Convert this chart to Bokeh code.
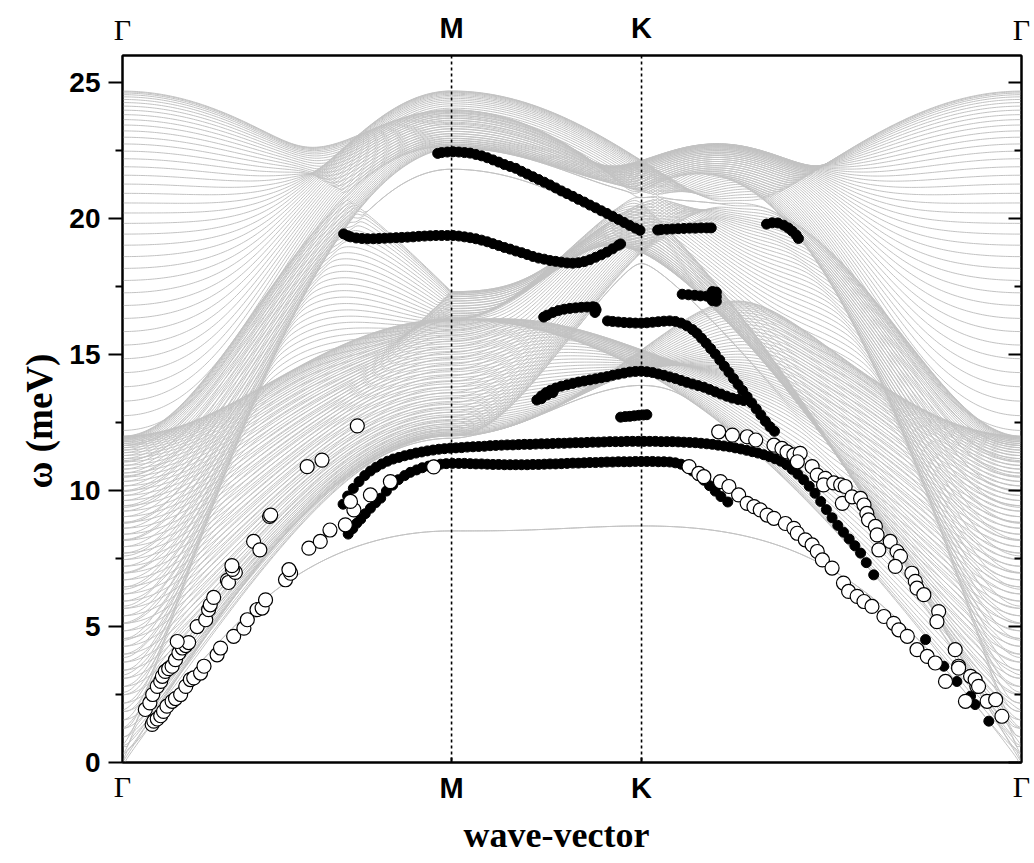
import numpy as np
from bokeh.plotting import figure
from bokeh.models import LinearAxis, FixedTicker, Range1d, Span, Title
from bokeh.embed import file_html
from bokeh.resources import INLINE

# ---------------- path (units of 2*pi/d along the surface Brillouin zone) -------------
S_M = 1.0 / np.sqrt(3.0)
S_K = S_M + 1.0 / 3.0
S_G2 = S_K + 2.0 / 3.0

# ---------------- slab model parameters ----------------
E_TOP = 24.7          # meV, top of the bands at Gamma
N_LAYERS = 60         # number of (111) layers in the slab
BETA = -0.0375        # tangential / radial nearest-neighbour ratio
K2 = 0.075            # second-neighbour / first-neighbour ratio
F_SURF = 0.72         # softening of the surface-subsurface bonds

# ---------------- measured points (wave-vector, energy meV) ----------------
black_1 = [(0.553,22.40),(0.56,22.43),(0.57,22.45),(0.58,22.46),(0.59,22.45),(0.60,22.43),(0.61,22.41),
           (0.62,22.36),(0.63,22.31),(0.64,22.24),(0.65,22.16),(0.66,22.08),(0.67,21.99),(0.68,21.92),
           (0.69,21.85),(0.70,21.74),(0.71,21.64),(0.72,21.54),(0.73,21.44),(0.74,21.34),(0.75,21.24),
           (0.76,21.13),(0.77,21.02),(0.78,20.92),(0.79,20.82),(0.80,20.71),(0.81,20.61),(0.82,20.50),
           (0.83,20.40),(0.84,20.29),(0.85,20.19),(0.86,20.08),(0.87,19.97),(0.88,19.86),(0.89,19.75),
           (0.90,19.65),(0.908,19.57)]
black_2 = [(0.388,19.44),(0.395,19.37),(0.40,19.33),(0.41,19.29),(0.42,19.27),(0.43,19.26),(0.44,19.26),
           (0.45,19.27),(0.46,19.28),(0.47,19.29),(0.48,19.30),(0.49,19.31),(0.50,19.32),(0.51,19.33),
           (0.52,19.35),(0.53,19.36),(0.54,19.37),(0.55,19.38),(0.56,19.38),(0.57,19.38),(0.58,19.38),
           (0.59,19.36),(0.60,19.33),(0.61,19.30),(0.62,19.26),(0.63,19.21),(0.64,19.15),(0.65,19.08),
           (0.66,19.01),(0.67,18.94),(0.68,18.88),(0.69,18.81),(0.70,18.75),(0.71,18.68),(0.72,18.61),
           (0.73,18.55),(0.74,18.51),(0.75,18.46),(0.76,18.43),(0.77,18.40),(0.78,18.37),(0.79,18.36),
           (0.80,18.38),(0.81,18.42),(0.82,18.49),(0.83,18.58),(0.84,18.67),(0.85,18.77),(0.86,18.89),
           (0.87,19.02),(0.874,19.07)]
black_3 = [(0.939,19.58),(0.945,19.60),(0.955,19.61),(0.965,19.62),(0.975,19.63),(0.985,19.64),
           (0.995,19.65),(1.005,19.65),(1.015,19.66),(1.025,19.66),(1.033,19.66)]
black_4 = [(1.130,19.80),(1.140,19.85),(1.150,19.84),(1.160,19.76),(1.168,19.66),(1.175,19.54),
           (1.182,19.40),(1.186,19.27)]
black_5 = [(0.739,16.38),(0.745,16.45),(0.755,16.55),(0.765,16.62),(0.775,16.67),(0.785,16.70),
           (0.795,16.72),(0.805,16.74),(0.815,16.75),(0.825,16.76),(0.829,16.74),(0.829,16.55),(0.831,16.65)]
black_6 = [(0.851,16.24),(0.86,16.22),(0.87,16.20),(0.88,16.18),(0.89,16.17),(0.90,16.16),(0.91,16.16),
           (0.92,16.17),(0.93,16.19),(0.94,16.21),(0.95,16.23),(0.96,16.24),(0.97,16.22),(0.98,16.16),
           (0.99,16.06),(1.0,15.92),(1.008,15.78),(1.016,15.60),(1.024,15.42),(1.032,15.22),(1.04,15.02),
           (1.048,14.80),(1.056,14.57),(1.064,14.35),(1.072,14.12),(1.08,13.90),(1.088,13.68),(1.096,13.45),
           (1.104,13.22),(1.112,13.00),(1.12,12.78),(1.128,12.55),(1.136,12.35),(1.144,12.18)]
black_7 = [(0.982,17.22),(0.993,17.20),(1.004,17.18),(1.014,17.16),(1.025,17.15),(1.033,17.14),
           (1.042,17.13),(1.035,16.98),(1.042,16.96),(1.042,17.30),(1.035,17.32)]
black_8 = [(0.727,13.33),(0.735,13.48),(0.743,13.60),(0.751,13.69),(0.76,13.77),(0.77,13.84),(0.78,13.89),
           (0.79,13.94),(0.80,13.99),(0.81,14.03),(0.82,14.07),(0.83,14.11),(0.84,14.15),(0.85,14.19),
           (0.86,14.24),(0.87,14.28),(0.88,14.32),(0.89,14.36),(0.90,14.38),(0.91,14.39),(0.92,14.37),
           (0.93,14.34),(0.94,14.29),(0.95,14.24),(0.96,14.18),(0.97,14.12),(0.98,14.05),(0.99,13.98),
           (1.00,13.92),(1.01,13.86),(1.02,13.80),(1.03,13.72),(1.04,13.63),(1.05,13.55),(1.06,13.47),
           (1.07,13.40),(1.08,13.35),(1.09,13.31),(0.735,13.38),(0.745,13.52),(0.755,13.60)]
black_9 = [(0.874,12.70),(0.882,12.72),(0.89,12.73),(0.898,12.75),(0.906,12.77),(0.914,12.78),(0.92,12.79)]
black_10 = [(0.387,9.50),(0.395,9.80),(0.405,10.08),(0.415,10.33),(0.425,10.55),(0.435,10.72),(0.445,10.86),
            (0.455,10.98),(0.465,11.08),(0.475,11.16),(0.485,11.22),(0.495,11.28),(0.505,11.33),(0.515,11.38),
            (0.525,11.42),(0.535,11.46),(0.545,11.49),(0.555,11.52),(0.565,11.54),(0.575,11.56),(0.585,11.57),
            (0.595,11.58),(0.605,11.60),(0.615,11.61),(0.625,11.62),(0.635,11.63),(0.645,11.65),(0.655,11.66),
            (0.665,11.67),(0.675,11.68),(0.685,11.68),(0.695,11.69),(0.705,11.70),(0.715,11.70),(0.725,11.71),
            (0.735,11.72),(0.745,11.72),(0.755,11.73),(0.765,11.74),(0.775,11.74),(0.785,11.75),(0.795,11.76),
            (0.805,11.76),(0.815,11.77),(0.825,11.78),(0.835,11.78),(0.845,11.79),(0.855,11.80),(0.865,11.80),
            (0.875,11.80),(0.885,11.81),(0.895,11.81),(0.905,11.81),(0.915,11.81),(0.925,11.81),(0.935,11.81),
            (0.945,11.80),(0.955,11.80),(0.965,11.80),(0.975,11.79),(0.985,11.78),(0.995,11.77),(1.005,11.76),
            (1.015,11.74),(1.025,11.72),(1.035,11.70),(1.045,11.67),(1.055,11.64),(1.065,11.61),(1.075,11.57),
            (1.085,11.53),(1.095,11.48),(1.105,11.43),(1.115,11.38),(1.125,11.32),(1.135,11.25),(1.145,11.17),
            (1.155,11.08),(1.165,10.95),(1.175,10.78),(1.185,10.60),(1.195,10.40),(1.205,10.16),(1.215,9.90),
            (1.225,9.60),(1.235,9.30),(1.245,9.00),(1.255,8.72),(1.265,8.47),(1.275,8.22),(1.285,7.97),
            (1.295,7.70),(1.305,7.35),(1.318,6.90)]
black_11 = [(0.396,8.40),(0.404,8.60),(0.411,8.80),(0.418,8.95),(0.426,9.15),(0.435,9.35),(0.444,9.55),
            (0.453,9.72),(0.463,9.98),(0.474,10.20),(0.484,10.40),(0.495,10.55),(0.505,10.67),(0.516,10.76),
            (0.526,10.84),(0.537,10.90),(0.547,10.94),(0.558,10.97),(0.568,10.99),(0.579,11.00),(0.59,11.00),
            (0.60,11.00),(0.61,10.99),(0.62,10.98),(0.63,10.98),(0.64,10.97),(0.65,10.96),(0.66,10.96),
            (0.67,10.95),(0.68,10.95),(0.69,10.95),(0.70,10.95),(0.71,10.95),(0.72,10.96),(0.73,10.96),
            (0.74,10.97),(0.75,10.98),(0.76,10.98),(0.77,10.99),(0.78,11.00),(0.79,11.01),(0.80,11.01),
            (0.81,11.02),(0.82,11.03),(0.83,11.03),(0.84,11.04),(0.85,11.05),(0.86,11.05),(0.87,11.06),
            (0.88,11.06),(0.89,11.06),(0.90,11.07),(0.91,11.07),(0.92,11.07),(0.93,11.07),(0.94,11.06),
            (0.95,11.06),(0.96,11.05),(0.97,11.02),(0.98,10.97),(0.99,10.86),(1.00,10.72),(1.01,10.55),
            (1.02,10.38),(1.03,10.18),(1.04,9.98),(1.05,9.78),(1.062,9.58)]
black_12 = [(1.409,4.52),(1.441,3.54),(1.464,2.98),(1.488,2.44),(1.496,2.13),(1.520,1.52)]

white_1 = [(0.040,1.95),(0.048,2.19),(0.053,2.50),(0.061,2.80),(0.067,2.98),(0.070,3.17),(0.075,3.35),
           (0.081,3.45),(0.087,3.54),(0.093,3.78),(0.099,4.03),(0.105,4.21),(0.111,4.30),(0.116,4.41),
           (0.096,4.45),(0.131,5.00),(0.146,5.25),(0.151,5.62),(0.154,5.80),(0.160,6.07),(0.184,6.70),
           (0.186,6.62),(0.198,6.99),(0.193,7.10),(0.192,7.24),(0.230,8.13),(0.241,7.82),(0.258,9.05),
           (0.260,9.10),(0.324,10.88),(0.350,11.12),(0.412,12.38)]
white_2 = [(0.052,1.40),(0.055,1.52),(0.061,1.60),(0.067,1.72),(0.072,1.88),(0.078,2.07),(0.087,2.25),
           (0.093,2.35),(0.102,2.50),(0.111,2.80),(0.119,3.05),(0.125,3.11),(0.137,3.29),(0.143,3.54),
           (0.166,3.96),(0.172,4.21),(0.195,4.64),(0.213,4.94),(0.219,5.25),(0.236,5.62),(0.245,5.68),
           (0.251,5.98),(0.286,6.72),(0.295,6.96),(0.292,7.09),(0.327,7.88),(0.347,8.13),(0.364,8.55),
           (0.391,8.74),(0.406,9.29),(0.400,9.60),(0.435,9.84),(0.470,10.33),(0.546,10.87)]
white_3 = [(1.046,12.16),(1.070,12.04),(1.096,11.98),(1.111,11.86),(1.143,11.67),(1.157,11.55),(1.166,11.42),
           (1.178,11.31),(1.189,11.37),(1.184,11.06),(1.210,10.88),(1.219,10.57),(1.233,10.45),(1.230,10.21),
           (1.248,10.28),(1.260,10.21),(1.268,10.15),(1.263,9.53),(1.280,9.77),(1.295,9.71),(1.301,9.47),
           (1.306,9.16),(1.309,8.92),(1.321,8.68),(1.324,8.37),(1.327,7.82),(1.347,8.13),(1.359,7.76),
           (1.365,7.58),(1.356,7.21),(1.385,6.96),(1.391,6.66),(1.394,6.41),(1.406,6.17),(1.432,5.55),
           (1.429,5.18),(1.461,4.15),(1.467,3.54),(1.488,3.17),(1.499,2.80),(1.517,2.25),(1.532,2.31),
           (1.543,1.70)]
white_4 = [(0.994,10.88),(1.011,10.63),(1.020,10.51),(1.049,10.33),(1.064,10.15),(1.081,9.84),(1.096,9.53),
           (1.108,9.41),(1.119,9.29),(1.131,9.10),(1.143,8.98),(1.163,8.79),(1.178,8.61),(1.184,8.43),
           (1.198,8.19),(1.210,8.00),(1.219,7.76),(1.228,7.45),(1.245,7.15),(1.265,6.60),(1.274,6.29),
           (1.289,6.11),(1.301,5.92),(1.315,5.74),(1.336,5.37),(1.353,5.12),(1.362,4.88),(1.377,4.64),
           (1.394,4.15),(1.412,3.90),(1.426,3.66),(1.444,2.98),(1.467,3.47),(1.479,2.25),(1.496,3.05),
           (1.502,2.80)]

black_sets = [black_1, black_2, black_3, black_4, black_5, black_6, black_7, black_8,
              black_9, black_10, black_11, black_12]
white_sets = [white_1, white_2, white_3, white_4]


# ---------------- force-constant fcc(111) slab ----------------
def slab_bands(n_layers, e_top, beta, k2, f_surf):
    sq3 = np.sqrt(3.0)
    hz = np.sqrt(2.0 / 3.0)
    I3 = np.eye(3)

    def fc(v, a, b):
        u = v / np.linalg.norm(v)
        return a * np.outer(u, u) + b * (I3 - np.outer(u, u))

    inpl = [np.array(v) for v in ([1, 0, 0], [0.5, sq3 / 2, 0], [-0.5, sq3 / 2, 0],
                                  [-1, 0, 0], [-0.5, -sq3 / 2, 0], [0.5, -sq3 / 2, 0])]
    up1 = [np.array(v) for v in ([0.5, 0.5 / sq3, hz], [-0.5, 0.5 / sq3, hz], [0.0, -1.0 / sq3, hz])]
    up2 = [np.array([-2 * v[0], -2 * v[1], hz]) for v in up1]
    r_in = [fc(v, 1.0, beta) for v in inpl]
    r_up = [fc(v, 1.0, beta) for v in up1] + [fc(v, k2, 0.0) for v in up2]
    v_up = up1 + up2
    s_in = sum(r_in)
    s_up = sum(r_up)
    scale = e_top ** 2 / (4.0 * (2.0 + beta + k2))

    G = np.array([0.0, 0.0])
    M = np.array([0.5, 0.5 / sq3])
    K = np.array([2.0 / 3.0, 0.0])
    segs = [(G, M, 0.0), (M, K, S_M), (K, G, S_K)]
    s_all, q_all = [], []
    for a, b, s0 in segs:
        L = np.linalg.norm(b - a)
        n = int(L / 0.004) + 1
        for ti in np.linspace(0, 1, n):
            s_all.append(s0 + ti * L)
            q_all.append(2 * np.pi * (a + ti * (b - a)))

    bond = np.ones(n_layers - 1)
    bond[0] = f_surf
    bond[-1] = f_surf
    n3 = 3 * n_layers
    freqs = []
    for q in q_all:
        A = sum(-R * np.exp(1j * (q[0] * v[0] + q[1] * v[1])) for R, v in zip(r_in, inpl))
        B = sum(-R * np.exp(1j * (q[0] * v[0] + q[1] * v[1])) for R, v in zip(r_up, v_up))
        D = np.zeros((n3, n3), complex)
        for l in range(n_layers):
            blk = s_in + A
            if l < n_layers - 1:
                blk = blk + bond[l] * s_up
                D[3 * l:3 * l + 3, 3 * l + 3:3 * l + 6] = bond[l] * B
                D[3 * l + 3:3 * l + 6, 3 * l:3 * l + 3] = bond[l] * B.conj().T
            if l > 0:
                blk = blk + bond[l - 1] * s_up
            D[3 * l:3 * l + 3, 3 * l:3 * l + 3] = blk
        w2 = np.linalg.eigvalsh(D) * scale
        freqs.append(np.sqrt(np.clip(w2, 0, None)))
    return np.array(s_all), np.array(freqs)


s_grid, bands = slab_bands(N_LAYERS, E_TOP, BETA, K2, F_SURF)
band_xs = [s_grid for _ in range(bands.shape[1])]
band_ys = [bands[:, j] for j in range(bands.shape[1])]

# ---------------- figure ----------------
p = figure(width=1030, height=860, output_backend="svg", toolbar_location=None,
           x_range=Range1d(0, S_G2), y_range=Range1d(0, 26),
           x_axis_location=None, y_axis_location=None,
           min_border_left=122, min_border_right=9, min_border_top=55, min_border_bottom=97)
p.grid.visible = False
p.outline_line_color = "black"
p.outline_line_width = 2
p.background_fill_color = "white"
p.border_fill_color = "white"

yt_major = [0, 5, 10, 15, 20, 25]
yt_minor = [2.5, 7.5, 12.5, 17.5, 22.5]

left = LinearAxis(ticker=FixedTicker(ticks=yt_major, minor_ticks=yt_minor))
left.axis_line_width = 2
left.major_tick_line_width = 2
left.minor_tick_line_width = 2
left.major_tick_out = 14
left.major_tick_in = 0
left.minor_tick_out = 7
left.minor_tick_in = 0
left.major_label_text_font = "Liberation Sans"
left.major_label_text_font_style = "bold"
left.major_label_text_font_size = "28px"
left.major_label_text_color = "black"
left.major_label_standoff = 8
p.add_layout(left, "left")
p.add_layout(Title(text="ω (meV)", align="left", offset=274, standoff=14,
                   text_font="Liberation Serif", text_font_style="bold",
                   text_font_size="37px", text_color="black"), "left")

right = LinearAxis(ticker=FixedTicker(ticks=yt_major, minor_ticks=yt_minor))
right.axis_line_width = 2
right.major_tick_line_width = 2
right.minor_tick_line_width = 2
right.major_tick_in = 13
right.major_tick_out = 0
right.minor_tick_in = 7
right.minor_tick_out = 0
right.major_label_overrides = {t: "" for t in yt_major}
right.major_label_standoff = 0
p.add_layout(right, "right")

lab_gamma = {0: "Γ", S_G2: "Γ"}
lab_mk = {S_M: "M", S_K: "K"}


def gamma_axis(minor):
    ax = LinearAxis(ticker=FixedTicker(ticks=[0, S_G2], minor_ticks=minor))
    ax.axis_line_width = 2
    ax.major_tick_in = 0
    ax.major_tick_out = 0
    ax.minor_tick_line_width = 2
    ax.minor_tick_in = 5
    ax.minor_tick_out = 0
    ax.major_label_overrides = lab_gamma
    ax.major_label_text_font = "Liberation Serif"
    ax.major_label_text_font_size = "30px"
    ax.major_label_text_color = "black"
    return ax


def mk_axis():
    ax = LinearAxis(ticker=FixedTicker(ticks=[S_M, S_K], minor_ticks=[]))
    ax.axis_line_color = None
    ax.major_tick_line_color = None
    ax.major_tick_in = 0
    ax.major_tick_out = 0
    ax.major_label_overrides = lab_mk
    ax.major_label_text_font = "Liberation Sans"
    ax.major_label_text_font_style = "bold"
    ax.major_label_text_font_size = "29px"
    ax.major_label_text_color = "black"
    return ax


top1 = gamma_axis([])
top1.major_label_standoff = 10
p.add_layout(top1, "above")
top2 = mk_axis()
top2.major_label_standoff = -34
p.add_layout(top2, "above")

bot1 = gamma_axis([S_M, S_K])
bot1.major_label_standoff = 7
p.add_layout(bot1, "below")
bot2 = mk_axis()
bot2.major_label_standoff = -34
p.add_layout(bot2, "below")
p.add_layout(Title(text="wave-vector", align="left", offset=341, standoff=12,
                   text_font="Liberation Serif", text_font_style="bold",
                   text_font_size="36px", text_color="black"), "below")

# calculated slab bands
p.multi_line(xs=band_xs, ys=band_ys, line_color="#c2c2c2", line_width=1.0)

# measured points
bx = [pt[0] for st in black_sets for pt in st]
by = [pt[1] for st in black_sets for pt in st]
wx = [pt[0] for st in white_sets for pt in st]
wy = [pt[1] for st in white_sets for pt in st]
p.scatter(x=bx, y=by, size=10, fill_color="black", line_color="black", line_width=1)
p.scatter(x=wx, y=wy, size=14, fill_color="white", line_color="black", line_width=1.2)

for loc in (S_M, S_K):
    p.add_layout(Span(location=loc, dimension="height", line_color="black",
                      line_dash="3 3", line_width=1.6))

open("out.html", "w").write(file_html(p, INLINE))
